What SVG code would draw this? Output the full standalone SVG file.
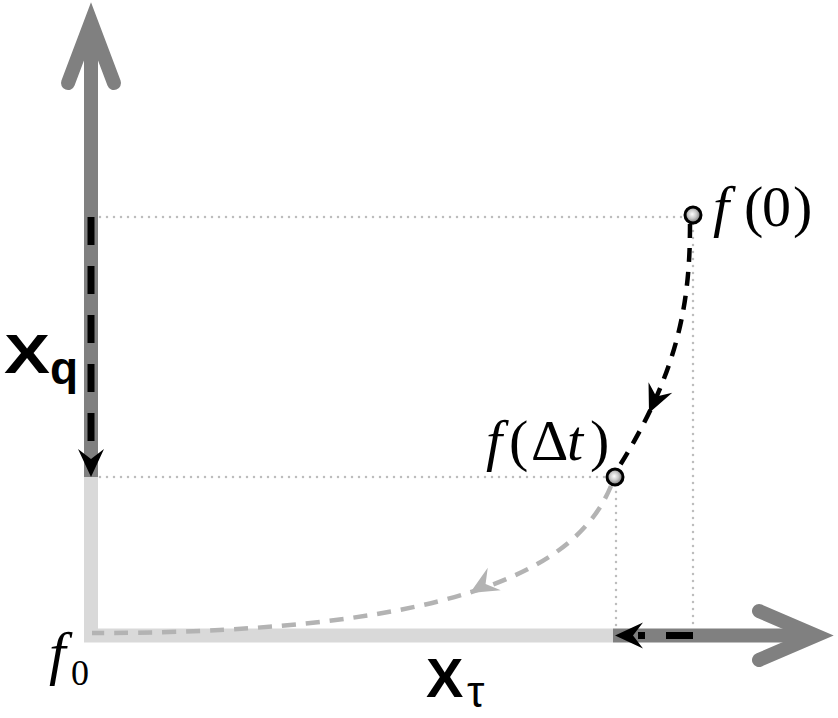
<svg xmlns="http://www.w3.org/2000/svg" width="838" height="718" viewBox="0 0 838 718">
<defs>
<style>
.axd{stroke:#808080;stroke-width:14;fill:none}
.axl{stroke:#d9d9d9;stroke-width:14;fill:none}
.head{stroke:#808080;stroke-width:14;fill:none;stroke-linecap:round;stroke-linejoin:miter;stroke-miterlimit:10}
.dot{stroke:#bdbdbd;stroke-width:2.5;fill:none;stroke-linecap:round;stroke-dasharray:0 7}
.bdash{stroke:#000;fill:none}
.gdash{stroke:#b3b3b3;fill:none}
.math{font-family:"Liberation Serif","DejaVu Serif",serif;fill:#000}
.lab{font-family:"Liberation Sans",Arial,sans-serif;font-weight:bold;fill:#000}
.ball{fill:url(#ball);stroke:#000;stroke-width:3}
</style>
<radialGradient id="ball" cx="0.45" cy="0.45" r="0.6">
<stop offset="0" stop-color="#ffffff"/>
<stop offset="0.45" stop-color="#c8c8c8"/>
<stop offset="1" stop-color="#606060"/>
</radialGradient>
<path id="ah" d="M0,0 L-28,-13 L-18,0 L-28,13 Z"/>
</defs>

<g id="axes">
<path class="axl" d="M91,477 V635.5 H613"/>
<path class="axd" d="M91,22 V477"/>
<path class="axd" d="M613,635.5 H816"/>
<polyline class="head" points="68,83 91,22 114,83"/>
<polyline class="head" points="759,611 816,635.5 759,660"/>
</g>

<g id="guides">
<path class="dot" d="M100,217 H684"/>
<path class="dot" d="M693,224 V630"/>
<path class="dot" d="M100,477 H606"/>
<path class="dot" d="M616,485 V630"/>
</g>

<g id="connectors">
<path class="bdash" stroke-width="7" stroke-dasharray="28 21" d="M91,217 V455"/>
<use href="#ah" fill="#000" transform="translate(91,477) rotate(90)"/>
<path class="bdash" stroke-width="7" d="M693,635.5 H666 M645,635.5 H638"/>
<use href="#ah" fill="#000" transform="translate(615,635.5) rotate(180)"/>
<path class="bdash" stroke-width="4.5" stroke-dasharray="14 10" d="M690,224 C690,300 680,370 617,470"/>
<use href="#ah" fill="#000" transform="translate(649,413) rotate(114)"/>
<path class="gdash" stroke-width="4.5" stroke-dasharray="14 10" d="M611,486 C580,560 480,633 92,633"/>
<use href="#ah" fill="#b3b3b3" transform="translate(470,593) rotate(150)"/>
</g>

<g id="point-f0">
<circle class="ball" cx="693" cy="215" r="8"/>
<text class="math" font-size="58" y="226"><tspan x="713" font-style="italic">f</tspan><tspan x="744">(</tspan><tspan x="762">0</tspan><tspan x="793">)</tspan></text>
</g>

<g id="point-fdt">
<circle class="ball" cx="615" cy="477" r="8"/>
<text class="math" font-size="58" y="460"><tspan x="486" font-style="italic">f</tspan><tspan x="509">(</tspan><tspan x="531">Δ</tspan><tspan x="567" font-style="italic">t</tspan><tspan x="590">)</tspan></text>
</g>

<g id="origin">
<text class="math" y="673"><tspan x="49" font-size="60" font-style="italic">f</tspan><tspan x="71" y="685" font-size="36">0</tspan></text>
</g>

<g id="label-xq">
<text class="lab" font-size="56" y="373"><tspan x="4" textLength="46" lengthAdjust="spacingAndGlyphs">X</tspan><tspan x="50" y="384" font-size="46">q</tspan></text>
</g>

<g id="label-xtau">
<text class="lab" font-size="56" y="697"><tspan x="426">X</tspan><tspan x="467" y="707" font-size="44" font-weight="normal">τ</tspan></text>
</g>
</svg>
